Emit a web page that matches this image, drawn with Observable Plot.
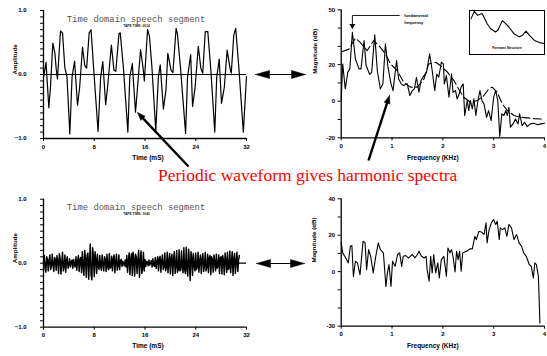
<!DOCTYPE html>
<html><head><meta charset="utf-8">
<script src="https://cdn.jsdelivr.net/npm/d3@7"></script>
<script src="https://cdn.jsdelivr.net/npm/@observablehq/plot@0.6"></script>
<style>
html,body{margin:0;padding:0;background:#fff;}
#chart{position:relative;width:547px;height:356px;overflow:hidden;background:#fff;}
#chart svg{position:absolute;}
.headline{position:absolute;left:158px;top:167px;line-height:17.5px;font-family:"Liberation Serif","Times New Roman",serif;font-size:17.5px;color:#ff0000;white-space:nowrap;}
</style></head><body><div id="chart"></div>
<script>
// ---------- data ----------
const voicedTime = [0,0.4,0.84,1.1,1.47,1.8,2.0,2.2,2.68,3.0,3.36,3.7,4.15,4.5,4.9,5.36,5.7,6.15,6.5,6.8,7.2,7.5,7.9,8.6,9.0,9.35,9.8,10.1,10.7,11.1,11.4,11.9,12.1,12.6,13.3,13.6,14.0,14.5,14.8,15.3,15.7,15.9,16.4,16.7,17.1,17.7,18.1,18.4,18.9,19.3,19.6,20.1,20.4,20.9,21.1,21.6,22.4,22.7,23.2,23.5,23.9,24.4,24.8,25.1,25.5,25.9,26.4,27.0,27.3,27.7,28.06,28.5,28.95,29.4,29.6,30.0,30.3,30.8,31.5,32.0];
const voicedAmp = [-0.05,0.19,-0.52,-0.2,0.49,0.33,0.09,-0.07,0.68,0.65,0.11,-0.04,-0.93,-0.04,0.21,-0.48,-0.2,0.43,0.14,0.1,0.65,0.7,0.1,-0.89,-0.05,0.2,-0.47,-0.2,0.46,0.07,0.05,0.64,0.65,0.1,-0.9,-0.04,0.17,-0.59,-0.23,0.39,0.1,-0.1,0.7,0.6,0.1,-0.88,-0.05,0.15,-0.54,-0.25,0.33,0.07,0.03,0.72,0.64,0.1,-0.92,-0.05,0.31,-0.5,-0.2,0.44,0.1,0.02,0.67,0.67,0.04,-0.9,-0.05,0.24,-0.45,-0.2,0.38,0.1,0.02,0.62,0.72,0.1,-0.9,-0.03];

const noiseSampleRateKHz = 8;
const noiseAmp = [
 0.02,0.12,-0.08,-0.14,0.10,0.06,-0.12,0.04,
 0.13,-0.10,-0.06,0.14,-0.02,-0.13,0.09,0.05,
 -0.11,0.12,0.03,-0.16,0.15,0.08,-0.17,0.02,
 0.17,-0.12,-0.05,0.13,-0.14,0.04,0.10,-0.08,
 -0.03,0.07,-0.06,0.02,0.05,-0.08,0.06,-0.02,
 -0.06,0.10,-0.11,0.03,0.12,-0.13,0.05,0.09,
 -0.15,0.18,-0.04,-0.19,0.20,0.06,-0.22,0.12,
 0.16,-0.25,0.04,0.30,-0.18,-0.26,0.24,0.10,
 -0.21,0.18,0.05,-0.16,0.14,-0.06,-0.10,0.12,
 -0.04,-0.11,0.13,-0.02,-0.12,0.10,0.05,-0.13,
 0.14,-0.06,-0.10,0.15,-0.08,-0.06,0.11,-0.12,
 0.06,0.13,-0.15,0.02,0.14,-0.11,-0.04,0.13,
 -0.10,0.04,0.06,-0.05,0.03,-0.02,-0.04,0.05,
 -0.06,0.12,-0.14,0.04,0.16,-0.18,0.08,0.15,
 -0.19,0.17,0.06,-0.20,0.14,0.10,-0.16,0.05,
 0.20,-0.22,0.03,0.19,-0.16,-0.08,0.17,-0.12,
 0.06,-0.05,0.03,0.02,-0.04,0.05,-0.03,0.01,
 0.04,-0.06,0.07,-0.03,-0.05,0.09,-0.08,0.02,
 0.10,-0.12,0.06,0.11,-0.14,0.03,0.13,-0.10,
 -0.05,0.16,-0.12,-0.06,0.17,-0.15,0.02,0.15,
 -0.17,0.08,0.14,-0.19,0.06,0.18,-0.16,-0.04,
 0.20,-0.14,-0.09,0.21,-0.12,-0.11,0.19,-0.05,
 -0.15,0.24,-0.10,-0.16,0.25,-0.08,-0.20,0.22,
 0.02,-0.27,0.18,0.08,-0.19,0.15,-0.04,-0.12,
 0.16,-0.10,-0.06,0.17,-0.14,0.03,0.13,-0.16,
 0.05,0.15,-0.13,-0.04,0.17,-0.12,-0.06,0.14,
 -0.15,0.08,0.12,-0.18,0.10,0.06,-0.14,0.13,
 0.02,-0.12,0.14,-0.08,-0.05,0.13,-0.16,0.09,
 0.10,-0.17,0.12,0.04,-0.18,0.16,0.03,-0.14,
 0.17,-0.10,-0.08,0.19,-0.15,0.02,0.18,-0.19,
 0.06,0.15,-0.16,0.03,0.17,-0.13,0.05,0.12
];

const voicedFreq = [0,0.03,0.08,0.13,0.17,0.22,0.28,0.35,0.39,0.45,0.49,0.56,0.6,0.66,0.71,0.77,0.82,0.87,0.92,0.98,1.02,1.09,1.13,1.18,1.23,1.30,1.35,1.40,1.44,1.48,1.53,1.57,1.63,1.68,1.74,1.79,1.84,1.88,1.92,1.97,2.01,2.03,2.07,2.12,2.17,2.2,2.25,2.28,2.31,2.36,2.40,2.43,2.48,2.51,2.54,2.58,2.61,2.65,2.69,2.73,2.77,2.81,2.86,2.9,2.95,3.0,3.04,3.08,3.12,3.16,3.2,3.24,3.27,3.3,3.33,3.38,3.43,3.48,3.51,3.56,3.61,3.66,3.72,3.79,3.86,3.93,4.0];
const voicedMag = [0.4,20.4,6.7,15.9,17.7,37.7,23,17.7,17.7,33.2,19.5,14.6,15.9,36.3,16.8,6.7,9.5,31.4,18.6,9.5,5.8,22.2,12.2,9.5,8.6,9.5,3.1,5.8,6.7,13.1,4.9,11.3,14,15.9,25.9,16.8,5.8,14.9,13.1,21.3,20.4,9.5,14,2.2,15,4.9,5.8,1.3,3.1,7.7,9.5,-7.8,0.4,-5.1,0.4,-4.2,1.3,-7.8,0.4,5.8,0.4,-1.5,-8.8,-5.1,-10.6,2.2,5.8,0.4,-19.3,-6.9,-7.8,-5.1,-7.8,-3.3,-14.2,-12.4,-9.7,-12.4,-6.9,-13.3,-11.5,-13.9,-12.4,-12,-12.9,-12.4,-12];

const envelopeFreq = [0.01,0.15,0.28,0.37,0.51,0.64,0.74,0.87,0.97,1.1,1.23,1.36,1.5,1.63,1.72,1.86,1.95,2.09,2.22,2.31,2.41,2.54,2.68,2.81,2.9,2.97,3.07,3.17,3.27,3.4,3.53,3.66,3.79,3.92,4.0];
const envelopeMag = [27,28.5,34.5,32.3,27.7,33.2,30.5,25.9,20.4,16.8,10.4,7.7,7.7,12.2,20.4,21.3,19.5,15.9,11.3,6.7,2.2,-0.5,0.4,3.1,6.7,7.7,4.9,-1.5,-5.1,-7.8,-8.8,-9.1,-9.5,-9.7,-9.8];

const formantPos = [0.02,0.064,0.108,0.168,0.235,0.28,0.347,0.378,0.438,0.482,0.527,0.595,0.662,0.708,0.753,0.797,0.865,0.932,1.0];
const formantLevel = [0.81,0.98,0.89,0.93,0.70,0.59,0.51,0.55,0.77,0.70,0.62,0.47,0.40,0.44,0.53,0.44,0.32,0.27,0.25];

const noiseFreq = [0,0.03,0.07,0.14,0.18,0.21,0.24,0.28,0.32,0.37,0.43,0.47,0.5,0.54,0.58,0.63,0.68,0.73,0.77,0.83,0.88,0.91,0.94,0.98,1.01,1.06,1.11,1.15,1.19,1.22,1.27,1.32,1.36,1.40,1.45,1.5,1.53,1.58,1.63,1.67,1.69,1.73,1.76,1.79,1.82,1.86,1.9,1.93,1.97,2.02,2.07,2.1,2.14,2.17,2.2,2.24,2.27,2.3,2.33,2.36,2.39,2.47,2.53,2.58,2.63,2.66,2.71,2.76,2.81,2.85,2.87,2.91,2.96,3.0,3.04,3.07,3.11,3.13,3.17,3.22,3.26,3.3,3.35,3.40,3.45,3.5,3.55,3.59,3.64,3.70,3.74,3.78,3.81,3.84,3.88,3.91];
const noiseMag = [15.8,10.3,8.4,4.8,13.9,14.3,-2.6,5.7,4.8,-1.7,16.7,15.8,1.1,12.1,8.4,-0.7,8.4,15.8,12.1,10.3,-8.1,-0.7,3.9,-8.1,5.7,2.9,9.4,10.3,2.9,8.4,8.8,7.5,8.4,9.4,7.5,9.4,11.2,8.4,7.5,8.4,1.1,-5.3,8.4,-0.7,9.4,-0.7,4.8,-3.5,6.6,8.4,-2.6,13.0,10.3,12.1,8.4,-0.2,11.2,6.6,11.2,0.2,10.3,11.2,12.5,12.5,19.4,17.6,22.2,21.7,20.4,26.8,15.8,23.1,27.2,28.6,25.9,27.7,17.6,24.0,23.1,24.0,19.4,25.9,24.0,17.6,20.4,15.8,13.9,10.3,8.4,3.9,2.9,-3.5,4.8,3.9,-2.6,-28.3];

const timeTicks = [0, 8, 16, 24, 32];
const ampTicks = d3.range(-10, 11).map(i => i / 10);
const ampTickLabels = [-1, 0, 1];
const freqTicks = [0, 1, 2, 3, 4];
const topDbTicks = [-20, -10, 0, 10, 20, 30, 40, 50];
const topDbTickLabels = [50, 20, 0, -20];
const botDbTicks = [-30, -20, -10, 0, 10, 20, 30, 40];
const botDbTickLabels = [40, 20, 0, -30];

const waveTitle = "Time domain speech segment";
const tapeTimes = ["TAPE TIME: 0014", "TAPE TIME: 3040"];
const headline = "Periodic waveform gives harmonic spectra";
const fundamentalKHz = 0.22;

// ---------- build ----------
const chart = document.getElementById("chart");
const SANS = '"Liberation Sans", Arial, Helvetica, sans-serif';
const baseStyle = {background: "transparent", overflow: "visible", fontFamily: SANS, fontSize: "6px", fontWeight: "bold", color: "black"};

function place(svg, left, top) {
  svg.style.position = "absolute";
  svg.style.left = left + "px";
  svg.style.top = top + "px";
  svg.style.maxWidth = "none";
  chart.appendChild(svg);
}

function frameAxes(c) {
  return [
    Plot.ruleX([c.xDomain[0]], {y1: c.yDomain[0], y2: c.yDomain[1], strokeWidth: 1.3}),
    Plot.ruleY([c.yDomain[0]], {x1: c.xDomain[0], x2: c.xDomain[1], strokeWidth: 1.3}),
    Plot.axisY(c.yTicks, {anchor: "left", tickSize: 3, tickPadding: c.yPad, label: null, fontSize: 6, fontWeight: "bold",
      tickFormat: d => c.yLabels.includes(d) ? c.yFmt(d) : ""}),
    Plot.axisX(c.xTicks, {anchor: "bottom", tickSize: 3, tickPadding: 3, label: null, fontSize: 6, fontWeight: "bold", tickFormat: d => String(d)}),
    Plot.text([c.xTitle], {frameAnchor: "bottom", dx: c.xTitleDx, dy: c.xTitleDy, fontSize: 6.5, fontWeight: "bold"}),
    Plot.text([c.yTitle], {frameAnchor: "left", rotate: -90, dx: c.yTitleDx, fontSize: 6.2, fontWeight: "bold"})
  ];
}

const voiced = voicedTime.map((t, i) => ({t, a: voicedAmp[i]}));
const noise = noiseAmp.map((a, i) => ({t: i / noiseSampleRateKHz, a}));
const vSpec = voicedFreq.map((f, i) => ({f, m: voicedMag[i]}));
const env = envelopeFreq.map((f, i) => ({f, m: envelopeMag[i]}));
const nSpec = noiseFreq.map((f, i) => ({f, m: noiseMag[i]}));
const formant = formantPos.map((p, i) => ({p, l: formantLevel[i]}));

function wavePanel(data, tape, top, mt, mb, titleDy, tapeDy, xTitleDy, sw) {
  const c = {xDomain: [0, 32], yDomain: [-1, 1], xTicks: timeTicks, yTicks: ampTicks, yLabels: ampTickLabels,
    yFmt: d3.format(".1f"), yPad: 14, xTitle: "Time (mS)", xTitleDx: 3, xTitleDy, yTitle: "Amplitude", yTitleDx: -28};
  const svg = Plot.plot({
    width: 250, height: (top === 0 ? 170 : 186), marginLeft: 43, marginRight: 4, marginTop: mt, marginBottom: mb,
    x: {domain: c.xDomain}, y: {domain: c.yDomain}, style: baseStyle,
    marks: [
      Plot.ruleY([0], {strokeWidth: 1.2}),
      Plot.line(data, {x: "t", y: "a", strokeWidth: sw, stroke: "black"}),
      ...frameAxes(c),
      Plot.text([waveTitle], {frameAnchor: "top", dx: -9, dy: titleDy, fontFamily: '"Liberation Mono", "DejaVu Sans Mono", monospace', fontSize: 8.9, fontWeight: "normal", fill: "#555"}),
      Plot.text([tape], {frameAnchor: "top", dx: -8.5, dy: tapeDy, fontSize: 3.3, fontWeight: "bold", fill: "#222"})
    ]
  });
  place(svg, 0, top);
}

wavePanel(voiced, tapeTimes[0], 0, 10, 32, 5, 14, 21.3, 1.2);
wavePanel(noise, tapeTimes[1], 170, 28.7, 29.3, 4, 13, 20.6, 1.45);

// top-right spectrum
{
  const c = {xDomain: [0, 4], yDomain: [-20, 50], xTicks: freqTicks, yTicks: topDbTicks, yLabels: topDbTickLabels,
    yFmt: d => String(d), yPad: 3, xTitle: "Frequency (KHz)", xTitleDx: -10, xTitleDy: 22, yTitle: "Magnitude (dB)", yTitleDx: -26.4};
  const peak = vSpec.find(d => d.f === fundamentalKHz);
  const svg = Plot.plot({
    width: 277, height: 170, marginLeft: 70.7, marginRight: 3, marginTop: 9.3, marginBottom: 32.7,
    x: {domain: c.xDomain}, y: {domain: c.yDomain}, style: baseStyle,
    marks: [
      Plot.line(env, {x: "f", y: "m", strokeWidth: 1.1, strokeDasharray: "8,3.5", stroke: "black"}),
      Plot.line(vSpec, {x: "f", y: "m", strokeWidth: 1.1, stroke: "black"}),
      ...frameAxes(c),
      // fundamental frequency annotation
      Plot.link([peak], {x1: "f", x2: () => 1.15, y1: () => 46.9, y2: () => 46.9, strokeWidth: 0.9}),
      Plot.link([peak], {x1: "f", x2: "f", y1: () => 46.9, y2: () => 42.2, strokeWidth: 0.9}),
      Plot.dot([peak], {x: "f", y: () => 41.3, symbol: "triangle", rotate: 180, r: 2.2, fill: "black", stroke: null}),
      Plot.text(["fundamental", "frequency"], {x: () => 1.24, y: (d, i) => 46.9 - i * 4, textAnchor: "start", fontSize: 4, fontWeight: "bold"})
    ]
  });
  place(svg, 270, 0);
}

// formant inset
{
  const svg = Plot.plot({
    width: 77, height: 46, margin: 1, x: {domain: [0, 1], axis: null}, y: {domain: [0, 1], axis: null},
    style: {...baseStyle, background: "white"},
    marks: [
      Plot.frame({stroke: "black", strokeWidth: 1}),
      Plot.line(formant, {x: "p", y: "l", strokeWidth: 1.1, stroke: "black"}),
      Plot.text(["Formant Structure"], {frameAnchor: "bottom", dy: -5.5, fontSize: 3.4, fontWeight: "bold"})
    ]
  });
  place(svg, 468.3, 9);
}

// bottom-right spectrum
{
  const c = {xDomain: [0, 4], yDomain: [-30, 40], xTicks: freqTicks, yTicks: botDbTicks, yLabels: botDbTickLabels,
    yFmt: d => String(d), yPad: 3, xTitle: "Frequency (KHz)", xTitleDx: -10, xTitleDy: 21.6, yTitle: "Magnitude (dB)", yTitleDx: -27.4};
  const svg = Plot.plot({
    width: 277, height: 186, marginLeft: 70.7, marginRight: 3, marginTop: 28.3, marginBottom: 30.3,
    x: {domain: c.xDomain}, y: {domain: c.yDomain}, style: baseStyle,
    marks: [
      Plot.line(nSpec, {x: "f", y: "m", strokeWidth: 1.1, stroke: "black"}),
      ...frameAxes(c)
    ]
  });
  place(svg, 270, 170);
}

// connector arrows (annotation layer, page pixel space)
const connectors = [
  {x1: 255, y1: 74, x2: 305, y2: 74, both: true, w: 1, hl: 14, hw: 8},
  {x1: 256, y1: 263, x2: 304, y2: 263, both: true, w: 1, hl: 14, hw: 8},
  {x1: 188, y1: 166, x2: 137, y2: 112, both: false, w: 2.4, hl: 8, hw: 6},
  {x1: 368, y1: 160, x2: 389, y2: 95, both: false, w: 2.4, hl: 8, hw: 6}
];
{
  const heads = [], shafts = [];
  connectors.forEach((c, k) => {
    const L = Math.hypot(c.x2 - c.x1, c.y2 - c.y1);
    const ux = (c.x2 - c.x1) / L, uy = (c.y2 - c.y1) / L;
    const tri = (tx, ty, dx, dy, id) => {
      const bx = tx - dx * c.hl, by = ty - dy * c.hl, px = -dy * c.hw / 2, py = dx * c.hw / 2;
      heads.push({id, x: tx, y: ty}, {id, x: bx + px, y: by + py}, {id, x: bx - px, y: by - py}, {id, x: tx, y: ty});
    };
    tri(c.x2, c.y2, ux, uy, k + "e");
    let sx = c.x1, sy = c.y1;
    if (c.both) { tri(c.x1, c.y1, -ux, -uy, k + "s"); sx += ux * c.hl; sy += uy * c.hl; }
    shafts.push({x1: sx, y1: sy, x2: c.x2 - ux * c.hl * 0.8, y2: c.y2 - uy * c.hl * 0.8, w: c.w});
  });
  const svg = Plot.plot({
    width: 547, height: 356, margin: 0,
    x: {type: "identity", axis: null}, y: {type: "identity", axis: null},
    style: {...baseStyle, pointerEvents: "none"},
    marks: [
      Plot.link(shafts, {x1: "x1", y1: "y1", x2: "x2", y2: "y2", strokeWidth: "w", stroke: "black"}),
      Plot.line(heads, {x: "x", y: "y", z: "id", fill: "black", stroke: "black", strokeWidth: 0.5, curve: "linear-closed"})
    ]
  });
  place(svg, 0, 0);
}

const h = document.createElement("div");
h.className = "headline";
h.textContent = headline;
chart.appendChild(h);
</script></body></html>
